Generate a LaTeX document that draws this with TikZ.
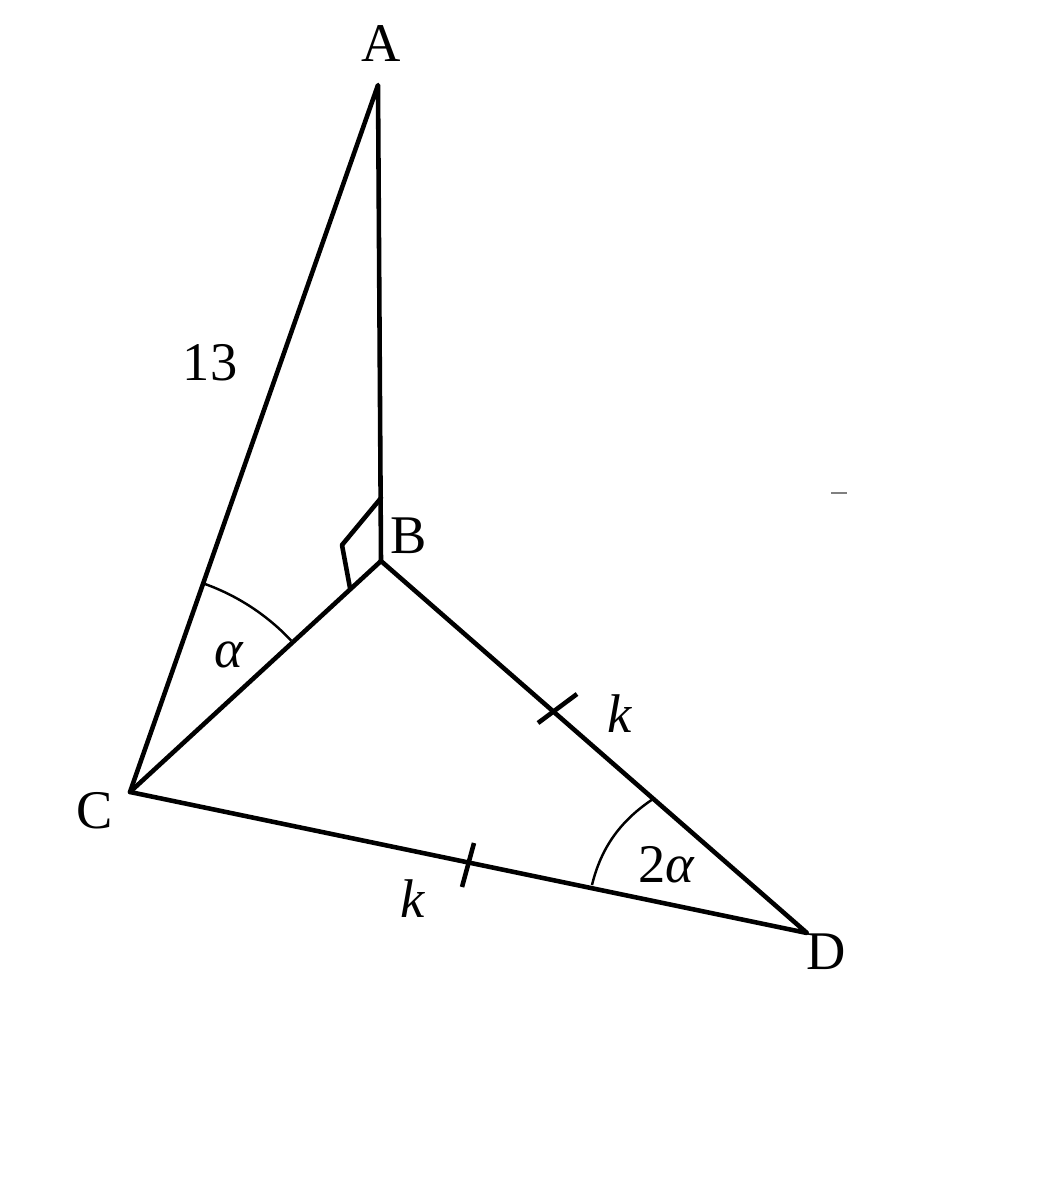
\documentclass[tikz,border=0pt]{standalone}
\usepackage{fontspec}
\setmainfont{Liberation Serif}
\begin{document}
\begin{tikzpicture}[x=0.02cm,y=-0.02cm,
  edge/.style={line width=2.6pt,line cap=round,line join=round},
  anglearc/.style={line width=1.4pt},
  lbl/.style={anchor=base,inner sep=0pt,font=\fontsize{31}{36}\selectfont},
  tick/.style={line width=2.6pt}]
\useasboundingbox (0,0) rectangle (1060,1180);
\coordinate (A) at (378,85);
\coordinate (B) at (381,561);
\coordinate (C) at (130,792);
\coordinate (D) at (807,933);
% right angle mark
\coordinate (R1) at (381,498);
\coordinate (R2) at (342,545);
\coordinate (R3) at (350,588);
% sides
\draw[edge] (A) -- (B) -- (D) -- (C) -- cycle;
\draw[edge] (C) -- (B);
\draw[edge] (R1) -- (R2) -- (R3);
% angle arcs
\draw[anglearc] (205,584) arc[start angle=-70.2, end angle=-43.2, radius=221];
\draw[anglearc] (592,885) .. controls (601,848) and (620,821) .. (653,799);
% ticks
\coordinate (T1a) at (538,723);
\coordinate (T1b) at (577,694);
\coordinate (T2a) at (462,887);
\coordinate (T2b) at (474,843);
\draw[tick] (T1a) -- (T1b);
\draw[tick] (T2a) -- (T2b);
% small grey dash
\coordinate (G1) at (831,493);
\coordinate (G2) at (847,493);
\draw[gray,line width=1.2pt] (G1) -- (G2);
% labels
\node[lbl] (lA) at (381,61) {A};
\node[lbl] (lB) at (409,553) {B};
\node[lbl] (lC) at (95,828) {C};
\node[lbl] (lD) at (826,969) {D};
\node[lbl] (l13) at (210,380) {13};
\node[lbl] (lal) at (229,667) {\itshape α};
\node[lbl] (lk1) at (620,732) {\itshape k};
\node[lbl] (lk2) at (413,917) {\itshape k};
\node[lbl] (l2al) at (666,882) {2\itshape α};
\end{tikzpicture}
\end{document}
